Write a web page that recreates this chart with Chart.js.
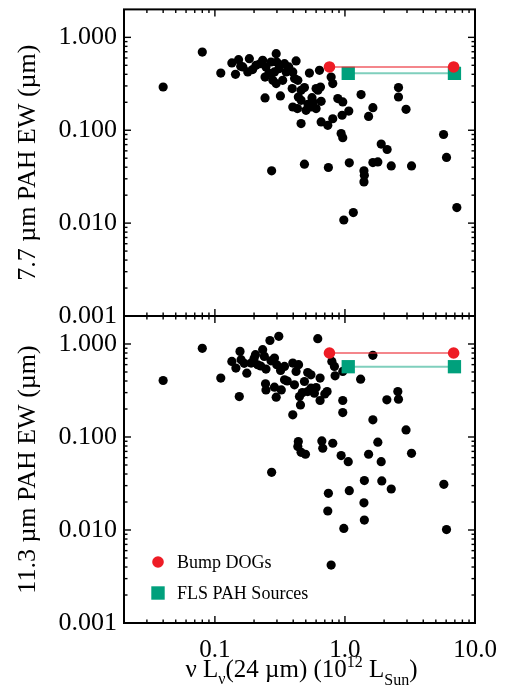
<!DOCTYPE html>
<html>
<head>
<meta charset="utf-8">
<script src="https://cdn.jsdelivr.net/npm/chart.js@4.4.0/dist/chart.umd.min.js"></script>
<style>
html,body{margin:0;padding:0;background:#fff;}
#wrap{position:relative;width:507px;height:692px;}
canvas{position:absolute;left:0;top:0;}
</style>
</head>
<body>
<div id="wrap">
<canvas id="c1" width="507" height="692"></canvas>
<canvas id="c2" width="507" height="692"></canvas>
</div>
<script>
// ---------- data ----------
const topX = [0.040,0.080,0.111,0.135,0.152,0.144,0.164,0.184,0.179,0.207,0.233,0.247,0.270,0.243,0.243,0.296,0.299,0.287,0.279,0.296,0.343,0.353,0.332,0.319,0.393,0.421,0.397,0.434,0.460,0.488,0.438,0.397,0.431,0.460,0.460,0.502,0.533,0.558,0.548,0.600,0.637,0.648,0.656,0.600,0.656,0.738,0.806,0.783,0.806,0.881,0.962,0.951,1.07,0.935,0.962,1.33,1.64,1.52,1.90,2.11,2.58,2.58,2.95,5.73,6.04,7.25,0.273,0.488,0.746,1.08,1.40,1.41,1.40,1.64,1.79,2.27,3.25,0.98,1.16,0.158,0.195,0.222,0.260,0.310,0.370,0.410,0.620,0.570,0.520];
const topY = [0.292,0.695,0.413,0.530,0.575,0.400,0.480,0.590,0.424,0.500,0.566,0.480,0.543,0.374,0.223,0.667,0.543,0.424,0.345,0.318,0.521,0.424,0.345,0.234,0.281,0.557,0.424,0.345,0.269,0.288,0.228,0.178,0.171,0.210,0.118,0.164,0.413,0.224,0.178,0.281,0.442,0.292,0.205,0.171,0.123,0.113,0.133,0.374,0.318,0.219,0.202,0.145,0.161,0.092,0.083,0.242,0.175,0.141,0.071,0.062,0.288,0.228,0.168,0.090,0.051,0.0147,0.0366,0.0431,0.0397,0.0446,0.0366,0.0328,0.0278,0.0449,0.0456,0.0413,0.0413,0.0108,0.0130,0.490,0.450,0.520,0.410,0.460,0.480,0.360,0.270,0.200,0.190];
const botX = [0.040,0.080,0.111,0.154,0.135,0.145,0.156,0.159,0.176,0.190,0.205,0.213,0.233,0.240,0.247,0.265,0.310,0.287,0.299,0.343,0.245,0.247,0.287,0.296,0.324,0.343,0.397,0.421,0.409,0.447,0.455,0.397,0.488,0.517,0.548,0.517,0.548,0.582,0.644,0.618,0.644,0.729,0.793,0.830,0.840,0.962,0.962,0.962,1.32,1.64,1.64,2.10,2.55,2.58,2.95,3.25,1.79,1.52,1.90,0.806,0.935,1.06,0.438,0.434,0.460,0.497,0.664,0.675,0.273,0.746,0.738,1.08,1.41,1.92,2.27,1.40,1.41,0.98,5.76,6.04,0.783,0.168,0.200,0.225,0.270,0.320,0.360,0.470,0.600,0.700,0.440];
const botY = [0.405,0.898,0.430,0.272,0.649,0.551,0.833,0.678,0.486,0.624,0.767,0.598,0.868,0.736,0.537,1.09,1.21,0.706,0.598,0.574,0.373,0.321,0.343,0.268,0.321,0.412,0.624,0.507,0.364,0.272,0.221,0.173,0.395,0.494,0.466,0.308,0.335,0.296,0.430,1.14,0.247,0.308,0.649,0.574,0.455,0.507,0.247,0.183,0.419,0.755,0.153,0.251,0.308,0.255,0.119,0.0668,0.0879,0.0652,0.0543,0.0857,0.0631,0.0543,0.0892,0.0789,0.0685,0.0652,0.0908,0.0757,0.0417,0.0248,0.0160,0.0265,0.0340,0.0337,0.0276,0.0196,0.0128,0.0104,0.0310,0.0101,0.0042,0.620,0.700,0.580,0.660,0.520,0.400,0.300,0.340,0.290,0.600];

const bumpX = [0.76, 6.85];
const bumpYTop = [0.48, 0.48];
const bumpYBot = [0.80, 0.80];
const flsX = [1.06, 6.95];
const flsYTop = [0.41, 0.41];
const flsYBot = [0.57, 0.57];

const xMajor = [0.1, 1, 10];
const yMajor = [0.001, 0.01, 0.1, 1];
const minorMult = [2,3,4,5,6,7,8,9];
const xRange = [0.02, 10];
const yRange = [0.001, 2];

const legendLabels = ['Bump DOGs', 'FLS PAH Sources'];
const yTitles = ['7.7 \u00b5m PAH EW (\u00b5m)', '11.3 \u00b5m PAH EW (\u00b5m)'];

// ---------- styling ----------
const RED = '#ee1c25';
const RED_LINE = 'rgba(236,40,50,0.75)';
const GREEN = '#00a07c';
const GREEN_LINE = 'rgba(0,160,124,0.5)';
const FONT = 'Liberation Serif';

Chart.defaults.font.family = FONT;
Chart.defaults.font.size = 25;
Chart.defaults.color = '#000';

function pts(xs, ys){ return xs.map((v,i)=>({x:v, y:ys[i]})); }

const framePlugin = {
  id: 'frame',
  afterDatasetsDraw(chart) {
    const {ctx, chartArea: a} = chart;
    const x = chart.scales.x, y = chart.scales.y;
    ctx.save();
    ctx.strokeStyle = '#000';
    ctx.lineWidth = 2;
    ctx.strokeRect(a.left, a.top, a.right - a.left, a.bottom - a.top);
    ctx.lineWidth = 1.4;
    const seg = (x1,y1,x2,y2)=>{ ctx.beginPath(); ctx.moveTo(x1,y1); ctx.lineTo(x2,y2); ctx.stroke(); };
    const yAll = [];
    yMajor.forEach(v=>{ yAll.push([v,7]); minorMult.forEach(m=>yAll.push([v*m,3.5])); });
    yAll.forEach(([v,L])=>{
      if (v <= y.min || v >= y.max) return;
      const p = y.getPixelForValue(v);
      seg(a.left, p, a.left + L, p);
      seg(a.right, p, a.right - L, p);
    });
    const xAll = [];
    [0.01].concat(xMajor).forEach(v=>{ if (xMajor.includes(v)) xAll.push([v,7]); minorMult.forEach(m=>xAll.push([v*m,3.5])); });
    xAll.forEach(([v,L])=>{
      if (v <= x.min || v >= x.max) return;
      const p = x.getPixelForValue(v);
      seg(p, a.bottom, p, a.bottom - L);
      seg(p, a.top, p, a.top + L);
    });
    ctx.restore();
  }
};

const legendPlugin = {
  id: 'legendIn',
  afterDraw(chart) {
    const {ctx, chartArea: a} = chart;
    ctx.save();
    const lx = a.left + 34, ly1 = a.bottom - 61, ly2 = a.bottom - 30;
    ctx.fillStyle = RED;
    ctx.beginPath(); ctx.arc(lx, ly1, 5.8, 0, Math.PI*2); ctx.fill();
    ctx.fillStyle = GREEN;
    ctx.fillRect(lx - 6.7, ly2 - 6.7, 13.4, 13.4);
    ctx.fillStyle = '#000';
    ctx.font = '18px ' + FONT;
    ctx.textBaseline = 'middle';
    ctx.textAlign = 'left';
    ctx.fillText(legendLabels[0], a.left + 53, ly1 + 1);
    ctx.fillText(legendLabels[1], a.left + 53, ly2 + 1);
    ctx.restore();
  }
};

const xTitlePlugin = {
  id: 'xTitle',
  afterDraw(chart) {
    const {ctx, chartArea: a} = chart;
    const big = '25px ' + FONT, small = '16px ' + FONT;
    const parts = [
      ['\u03bd L', big, 0],
      ['\u03bd', small, 7],
      ['(24 \u00b5m) (10', big, 0],
      ['12', small, -10],
      [' L', big, 0],
      ['Sun', small, 8],
      [')', big, 0]
    ];
    ctx.save();
    ctx.fillStyle = '#000';
    ctx.textBaseline = 'alphabetic';
    ctx.textAlign = 'left';
    let w = 0;
    parts.forEach(p=>{ ctx.font = p[1]; w += ctx.measureText(p[0]).width; });
    let cx = (a.left + a.right) / 2 + 2 - w / 2;
    const base = 677;
    parts.forEach(p=>{ ctx.font = p[1]; ctx.fillText(p[0], cx, base + p[2]); cx += ctx.measureText(p[0]).width; });
    ctx.restore();
  }
};

function makeChart(id, isTop) {
  const bx = bumpX, by = isTop ? bumpYTop : bumpYBot;
  const fx = flsX, fy = isTop ? flsYTop : flsYBot;
  const xs = isTop ? topX : botX, ys = isTop ? topY : botY;
  const plugins = [framePlugin];
  if (!isTop) { plugins.push(legendPlugin, xTitlePlugin); }
  return new Chart(document.getElementById(id), {
    type: 'scatter',
    data: {
      datasets: [
        { label: legendLabels[0], data: pts(bx, by), showLine: true, borderColor: RED_LINE, borderWidth: 1.6,
          pointRadius: 5.8, pointBackgroundColor: RED, pointBorderColor: RED, pointBorderWidth: 0, order: 0 },
        { label: legendLabels[1], data: pts(fx, fy), showLine: true, borderColor: GREEN_LINE, borderWidth: 2,
          pointStyle: 'rect', pointRadius: 9.4, pointBackgroundColor: GREEN, pointBorderColor: GREEN, pointBorderWidth: 0, order: 1 },
        { label: 'sources', data: pts(xs, ys), pointRadius: 4.6, pointBackgroundColor: '#000', pointBorderWidth: 0, order: 2 }
      ]
    },
    options: {
      responsive: false,
      animation: false,
      events: [],
      layout: { padding: isTop ? {top: 9, right: 32, bottom: 692 - 316, left: 0} : {top: 316, right: 32, bottom: 0, left: 0} },
      plugins: { legend: {display: false}, tooltip: {enabled: false} },
      scales: {
        x: {
          type: 'logarithmic', min: xRange[0], max: xRange[1],
          display: !isTop,
          grid: {display: false, drawTicks: false},
          border: {display: false},
          afterBuildTicks: s => { s.ticks = xMajor.map(v=>({value: v, major: true})); },
          afterFit: s => { s.height = isTop ? 0 : 69; s.paddingLeft = 0; s.paddingRight = 0; },
          ticks: { padding: 12, font: {size: 25}, callback: v => Number(v).toFixed(1), autoSkip: false, maxRotation: 0 }
        },
        y: {
          type: 'logarithmic', min: yRange[0], max: yRange[1],
          grid: {display: false, drawTicks: false},
          border: {display: false},
          afterBuildTicks: s => { s.ticks = yMajor.map(v=>({value: v, major: true})); },
          afterFit: s => { s.width = 124; s.paddingTop = 0; s.paddingBottom = 0; },
          ticks: { padding: 7, font: {size: 26}, callback: v => Number(v).toFixed(3), autoSkip: false },
          title: { display: true, text: isTop ? yTitles[0] : yTitles[1], font: {size: 26}, padding: {top: 13, bottom: 0} }
        }
      }
    },
    plugins: plugins
  });
}

makeChart('c1', true);
makeChart('c2', false);
</script>
</body>
</html>
